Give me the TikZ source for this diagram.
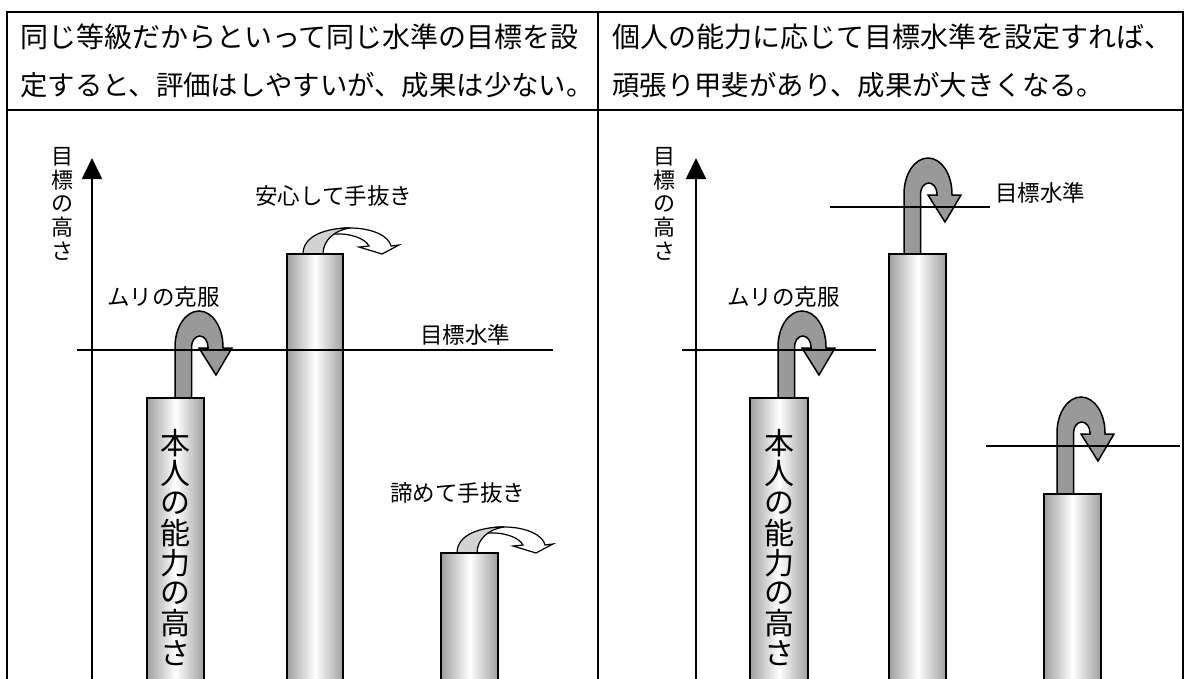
\documentclass[tikz,border=0pt]{standalone}
\usepackage{fontspec}
\setmainfont{Noto Sans CJK JP}
\usetikzlibrary{arrows.meta}
% #1 stem left x, #2 reference level y, #3 stem bottom (relative)
\newcommand\myUturn[3]{%
\begin{scope}[shift={(#1,#2)}]
\draw[uarr] (0,#3) -- (0,-13) .. controls (0,-32.9) and (10.7,-49) .. (24,-49) .. controls (37.3,-49) and (48,-32.9) .. (48,-13) -- (48,-12) -- (57,-12) -- (41,15) -- (24,-12) -- (33,-12) -- (33,-13) .. controls (33,-19.1) and (29.3,-24) .. (24.75,-24) .. controls (20.2,-24) and (16.5,-19.1) .. (16.5,-13) -- (16.5,#3) -- cycle;
\end{scope}}
\newcommand\myFlat[2]{%
\begin{scope}[shift={(#1,#2)}]
\draw[farr,fill=white] (40,-21) .. controls (48,-26) and (55,-26) .. (63,-26) .. controls (85,-26) and (102,-18) .. (104,-8) -- (112,-9) -- (95,0) -- (72,-7) -- (82,-8) .. controls (78,-16) and (62,-21) .. (47,-20) -- cycle;
\draw[farr,fill=gray!35] (16,0) .. controls (16,-18) and (38,-26) .. (63,-26) .. controls (48,-24) and (36,-14) .. (36,0) -- cycle;
\end{scope}}
\begin{document}
\begin{tikzpicture}[x=1pt,y=-1pt,
  tline/.style={line width=2.5pt},
  lvl/.style={line width=1.5pt},
  axisline/.style={line width=1.8pt,-{Triangle[length=21pt,width=20pt]}},
  cyl/.style={draw=black,line width=1.8pt,left color=gray!75,right color=gray!75,middle color=white},
  uarr/.style={draw=black,line width=1.5pt,fill=gray!80},
  farr/.style={draw=black,line width=1.2pt},
  hdr/.style={anchor=west,inner sep=0pt,font=\fontsize{28}{28}\selectfont},
  hdrb/.style={anchor=west,inner sep=0pt,font=\fontsize{27.4}{27.4}\selectfont},
  lbl/.style={anchor=west,inner sep=0pt,font=\fontsize{22.5}{22.5}\selectfont},
  vch/.style={inner sep=0pt,font=\fontsize{30}{30}\selectfont},
  ach/.style={inner sep=0pt,font=\fontsize{22}{22}\selectfont},
]
\useasboundingbox (0,0) rectangle (1187,678);
\clip (0,0) rectangle (1187,678);
% table
\draw[tline] (7,700) -- (7,12) -- (1183,12) -- (1183,700);
\draw[tline] (7,110) -- (1183,110);
\draw[tline] (598,12) -- (598,700);
% header
\node[hdr] (h1) at (20,37) {同じ等級だからといって同じ水準の目標を設};
\node[hdrb] (h2) at (20,85) {定すると、評価はしやすいが、成果は少ない。};
\node[hdr] (h3) at (612,37) {個人の能力に応じて目標水準を設定すれば、};
\node[hdrb] (h4) at (612,85) {頑張り甲斐があり、成果が大きくなる。};
% axes
\coordinate (la0) at (92,700); \coordinate (la1) at (92,158);
\coordinate (ra0) at (696,700); \coordinate (ra1) at (696,158);
\draw[axisline] (la0) -- (la1);
\draw[axisline] (ra0) -- (ra1);
\foreach \c [count=\i from 0] in {目,標,の,高,さ} {
  \node[ach] (yl\i) at (62,157+23.5*\i) {\c};
  \node[ach] (yr\i) at (664,157+23.5*\i) {\c};
}
% arrows
\myUturn{175}{360}{38}
\myUturn{778}{360}{38}
\myUturn{904}{207}{48}
\myUturn{1057}{446}{48}
\myFlat{287}{254}
\myFlat{441}{553}
% cylinders
\path[cyl] (147,398) rectangle (204,700);
\path[cyl] (287,254) rectangle (343,700);
\path[cyl] (441,553) rectangle (498,700);
\path[cyl] (750,398) rectangle (808,700);
\path[cyl] (889,254) rectangle (946,700);
\path[cyl] (1044,494) rectangle (1101,700);
% target levels
\coordinate (g1a) at (77,350); \coordinate (g1b) at (553,350);
\coordinate (g2a) at (682,350); \coordinate (g2b) at (876,350);
\coordinate (g3a) at (830,207); \coordinate (g3b) at (990,207);
\coordinate (g4a) at (986,446); \coordinate (g4b) at (1180,446);
\draw[lvl] (g1a) -- (g1b);
\draw[lvl] (g2a) -- (g2b);
\draw[lvl] (g3a) -- (g3b);
\draw[lvl] (g4a) -- (g4b);
% labels
\node[lbl] (t1) at (255,196) {安心して手抜き};
\node[lbl] (t2) at (107,297) {ムリの克服};
\node[lbl] (t3) at (420,335) {目標水準};
\node[lbl] (t4) at (390,493) {諦めて手抜き};
\node[lbl] (t5) at (727,297) {ムリの克服};
\node[lbl] (t6) at (995,193) {目標水準};
\foreach \c [count=\i from 0] in {本,人,の,能,力,の,高,さ} {
  \node[vch] (vl\i) at (175.5,443+30*\i) {\c};
  \node[vch] (vr\i) at (779,443+30*\i) {\c};
}
\end{tikzpicture}
\end{document}
